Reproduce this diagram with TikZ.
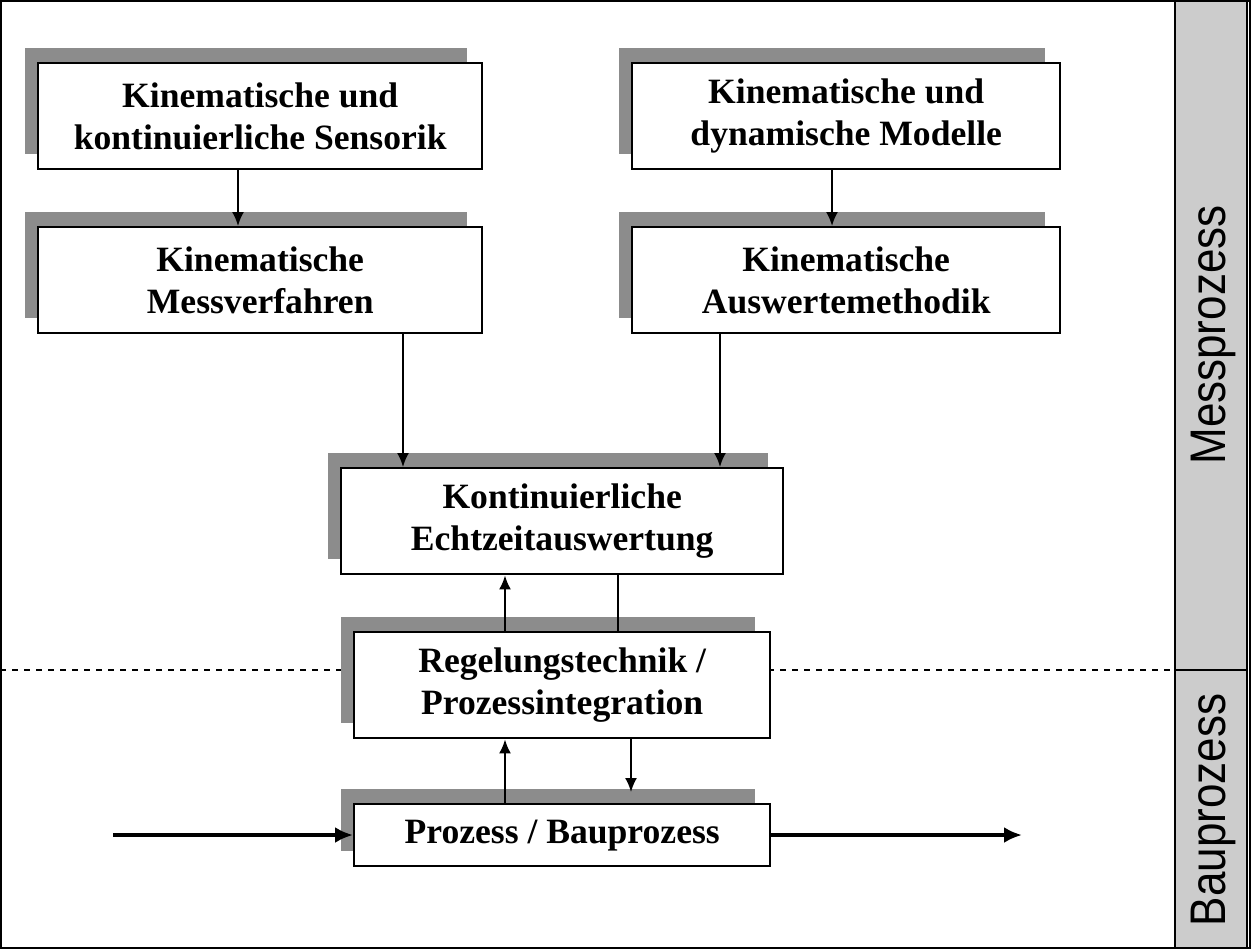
\documentclass[tikz,border=0pt]{standalone}
\usepackage{fontspec}
\setmainfont{Liberation Serif}
\setsansfont{Liberation Sans}
\begin{document}
\begin{tikzpicture}[x=0.5pt,y=-0.5pt,
  box/.style={draw=black,line width=1.2pt,fill=white,inner sep=0pt,anchor=north west,font=\bfseries\fontsize{17.8}{21}\selectfont,align=center},
  arr/.style={-{Latex[length=7pt,width=6pt]},line width=1pt},
  ln/.style={line width=1pt},
  bigarr/.style={-{Latex[length=9pt,width=8pt]},line width=2pt},
  side/.style={font=\sffamily\fontsize{25}{28}\selectfont,rotate=90,xscale=0.88}]
\usetikzlibrary{arrows.meta}
\useasboundingbox (0,0) rectangle (1252,950);
\draw[line width=1pt,fill=white] (1,1) rectangle (1250,948);
\draw[line width=1pt,fill=black!20] (1175,1) rectangle (1247,948);
\draw[dashed,line width=0.6pt] (0,670) -- (1175,670);
\draw[line width=0.8pt] (1175,670) -- (1248,670);
\node[side] (mp) at (1213,335) {Messprozess};
\node[side] (bp) at (1213,810) {Bauprozess};
\newcommand{\mybox}[6]{%
  \fill[black!45] (#1-12,#2-14) rectangle (#3-14,#4-14);
  \node[box,minimum width={(#3-#1)*0.5pt},minimum height={(#4-#2)*0.5pt}] (#5) at (#1,#2) {#6};}
\mybox{37}{62}{481}{168}{b1}{Kinematische und\\kontinuierliche Sensorik}
\mybox{37}{226}{481}{332}{b2}{Kinematische\\Messverfahren}
\mybox{631}{62}{1059}{168}{b3}{Kinematische und\\dynamische Modelle}
\mybox{631}{226}{1059}{332}{b4}{Kinematische\\Auswertemethodik}
\mybox{340}{467}{782}{573}{b5}{Kontinuierliche\\Echtzeitauswertung}
\mybox{353}{631}{769}{737}{b6}{Regelungstechnik /\\Prozessintegration}
\mybox{353}{803}{769}{865}{b7}{Prozess / Bauprozess}
\coordinate (in) at (113,835);
\coordinate (out) at (1022,835);
\draw[arr] (b1.south -| 238,0) -- (b2.north -| 238,0);
\draw[arr] (b3.south -| 832,0) -- (b4.north -| 832,0);
\draw[arr] (b2.south -| 403,0) -- (b5.north -| 403,0);
\draw[arr] (b4.south -| 720,0) -- (b5.north -| 720,0);
\draw[arr] (b6.north -| 505,0) -- (b5.south -| 505,0);
\draw[ln] (b5.south -| 618,0) -- (b6.north -| 618,0);
\draw[arr] (b7.north -| 505,0) -- (b6.south -| 505,0);
\draw[arr] (b6.south -| 631,0) -- (631,792);
\draw[bigarr] (in) -- (b7.west |- in);
\draw[bigarr] (b7.east |- out) -- (out);
\end{tikzpicture}
\end{document}
